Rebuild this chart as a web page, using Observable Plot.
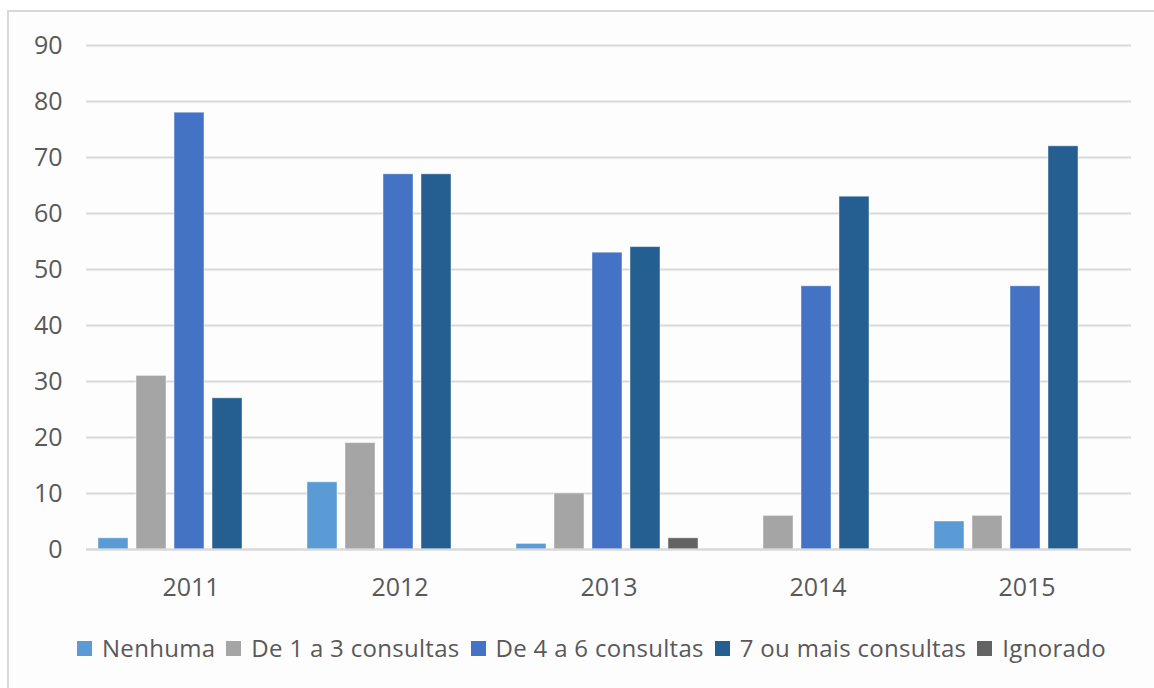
<!DOCTYPE html>
<html>
<head>
<meta charset="utf-8">
<script src="https://cdn.jsdelivr.net/npm/d3@7"></script>
<script src="https://cdn.jsdelivr.net/npm/@observablehq/plot@0.6"></script>
<style>
  html, body { margin: 0; padding: 0; background: #ffffff; width: 1154px; height: 688px; overflow: hidden; }
  #frame {
    position: absolute; left: 7px; top: 10px; width: 1200px; height: 700px;
    border-left: 2px solid #d9d9d9; border-top: 2px solid #d9d9d9; background: #fdfdfd;
    font-family: "Open Sans", sans-serif; color: #595959;
  }
  #legend { display: flex; align-items: center; margin-top: 21px; padding-left: 68px; font-size: 24px; letter-spacing: 0.3px; line-height: 30px; white-space: nowrap; }
  .item { display: flex; align-items: center; margin-right: 11px; }
  .sw { width: 15px; height: 15px; margin-right: 10px; flex: none; }
</style>
</head>
<body>
<div id="frame"><div id="chart"></div><div id="legend"></div></div>
<script>
const years = ["2011", "2012", "2013", "2014", "2015"];
const categories = ["Nenhuma", "De 1 a 3 consultas", "De 4 a 6 consultas", "7 ou mais consultas", "Ignorado"];
const colors = ["#5B9BD5", "#A5A5A5", "#4472C4", "#255E91", "#636363"];
const nenhuma = [2, 12, 1, 0, 5];
const de1a3 = [31, 19, 10, 6, 6];
const de4a6 = [78, 67, 53, 47, 47];
const seteOuMais = [27, 67, 54, 63, 72];
const ignorado = [0, 0, 2, 0, 0];
const yTicks = [0, 10, 20, 30, 40, 50, 60, 70, 80, 90];

const series = [nenhuma, de1a3, de4a6, seteOuMais, ignorado];
const data = [];
years.forEach((yr, i) => {
  categories.forEach((c, j) => data.push({year: yr, cat: c, value: series[j][i]}));
});

const chart = Plot.plot({
  width: 1145,
  height: 600,
  marginLeft: 76,
  marginRight: 23,
  marginTop: 33,
  marginBottom: 63,
  style: {fontFamily: "'Open Sans', sans-serif", fontSize: "25px", color: "#595959", background: "transparent"},
  fx: {domain: years, padding: 0, label: null, axis: "bottom", tickSize: 0, tickPadding: 29},
  x: {domain: categories, axis: null, paddingInner: 0.21, paddingOuter: 0.3, align: 0.45},
  y: {domain: [0, 90], ticks: yTicks, tickSize: 0, tickPadding: 24, label: null},
  color: {domain: categories, range: colors},
  marks: [
    Plot.gridY(yTicks, {stroke: "#d9d9d9", strokeOpacity: 1, strokeWidth: 2}),
    Plot.barY(data, {fx: "year", x: "cat", y: "value", fill: "cat", stroke: "#ffffff", strokeOpacity: 0.45, strokeWidth: 1}),
    Plot.ruleY([0], {stroke: "#d9d9d9", strokeWidth: 2})
  ]
});
document.getElementById("chart").appendChild(chart);

const legend = document.getElementById("legend");
categories.forEach((c, j) => {
  const it = document.createElement("div");
  it.className = "item";
  const sw = document.createElement("span");
  sw.className = "sw";
  sw.style.background = colors[j];
  const t = document.createElement("span");
  t.textContent = c;
  it.appendChild(sw); it.appendChild(t);
  legend.appendChild(it);
});
</script>
</body>
</html>
